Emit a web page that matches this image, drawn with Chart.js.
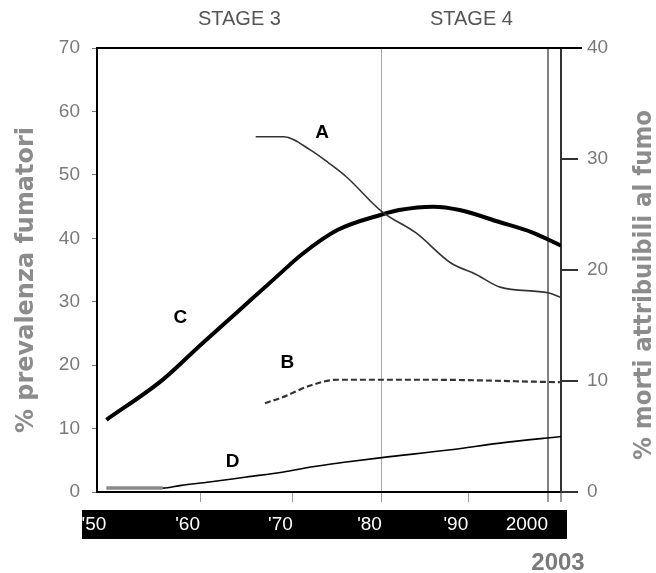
<!DOCTYPE html>
<html lang="it">
<head>
  <meta charset="UTF-8">
  <title>Epidemia del fumo - Italia</title>
  <script src="https://cdn.jsdelivr.net/npm/chart.js"></script>
  <style>
    html, body { margin: 0; padding: 0; background: #fff; }
    canvas { display: block; }
  </style>
</head>
<body>
  <canvas id="chart" width="656" height="573"></canvas>

  <script>
    // A: prevalenza fumatori uomini (asse sinistro)
    const yearsA = [1966, 1969, 1972, 1974, 1976, 1980, 1984, 1988, 1991, 1994, 2000, 2003];
    const prevA  = [56, 56, 53.9, 51.9, 49.7, 44.2, 40.8, 36.1, 34.3, 32.3, 31.4, 30.7];

    // B: prevalenza fumatrici donne (asse sinistro)
    const yearsB = [1967, 1969, 1972, 1975, 1985, 2003];
    const prevB  = [14, 15, 16.8, 17.7, 17.7, 17.3];

    // C: % morti attribuibili al fumo, uomini (asse destro)
    const yearsC  = [1950, 1956, 1960, 1964, 1968, 1971, 1975, 1980, 1982, 1986, 1989, 1994, 1998, 2003];
    const deathsC = [6.5, 10.1, 13.2, 16.2, 19.2, 21.4, 23.6, 25.0, 25.4, 25.7, 25.4, 24.3, 23.4, 22.2];

    // D: % morti attribuibili al fumo, donne (asse destro)
    const yearsD  = [1950, 1956, 1958, 1961, 1965, 1969, 1972, 1976, 1980, 1988, 1994, 2003];
    const deathsD = [0.35, 0.35, 0.6, 0.9, 1.35, 1.8, 2.25, 2.7, 3.1, 3.8, 4.4, 5.0];

    // x axis ticks and band labels
    const tickYears  = [1950, 1960, 1970, 1980, 1990, 2000, 2003];
    const tickLabels = ["'50", "'60", "'70", "'80", "'90", "2000", ""];

    // curve letters, placed in axis units (left axis)
    const curveNames  = ["A", "B", "C", "D"];
    const curveYears  = [1973.3, 1969.4, 1957.9, 1963.5];
    const curveValues = [56.6, 20.3, 27.4, 4.7];

    const stageNames = ["STAGE 3", "STAGE 4"];
    const stageFrom  = [1949, 1980];
    const stageTo    = [1980, 2003];

    // the original time axis is not evenly spaced (last 3 years squeezed)
    const knotYears = [1949, 1960, 1970, 1980, 1990, 2000, 2003];
    const knotFrac  = [0, 0.222, 0.422, 0.614, 0.800, 0.972, 1];

    function yearToFrac(v) {
      if (v <= knotYears[0]) return knotFrac[0];
      for (let i = 1; i < knotYears.length; i++) {
        if (v <= knotYears[i]) {
          const t = (v - knotYears[i - 1]) / (knotYears[i] - knotYears[i - 1]);
          return knotFrac[i - 1] + t * (knotFrac[i] - knotFrac[i - 1]);
        }
      }
      return 1;
    }
    function fracToYear(f) {
      for (let i = 1; i < knotFrac.length; i++) {
        if (f <= knotFrac[i]) {
          const t = (f - knotFrac[i - 1]) / (knotFrac[i] - knotFrac[i - 1]);
          return knotYears[i - 1] + t * (knotYears[i] - knotYears[i - 1]);
        }
      }
      return knotYears[knotYears.length - 1];
    }

    class KnotScale extends Chart.LinearScale {
      getPixelForValue(value) {
        if (value === null || value === undefined) return NaN;
        return this.getPixelForDecimal(yearToFrac(value));
      }
      getValueForPixel(pixel) {
        return fracToYear(this.getDecimalForPixel(pixel));
      }
    }
    KnotScale.id = 'knots';
    KnotScale.defaults = Chart.LinearScale.defaults;
    Chart.register(KnotScale);

    const pts = (xs, ys) => xs.map((x, i) => ({ x: x, y: ys[i] }));

    function fitVertical(ctx, text, x, y, len, font, color) {
      ctx.save();
      ctx.translate(x, y);
      ctx.rotate(-Math.PI / 2);
      ctx.font = font;
      const w = ctx.measureText(text).width;
      ctx.scale(len / w, 1);
      ctx.fillStyle = color;
      ctx.textAlign = 'center';
      ctx.textBaseline = 'alphabetic';
      ctx.fillText(text, 0, 0);
      ctx.restore();
    }

    const decor = {
      id: 'decor',
      beforeDraw(chart) {
        const ctx = chart.ctx;
        const a = chart.chartArea;
        ctx.save();
        ctx.fillStyle = '#fff';
        ctx.fillRect(0, 0, chart.width, chart.height);
        // black year band
        ctx.fillStyle = '#000';
        ctx.fillRect(a.left - 15, a.bottom + 18, a.right - a.left + 21, 29);
        ctx.restore();
      },
      afterDatasetsDraw(chart) {
        const ctx = chart.ctx;
        const x = chart.scales.x, y = chart.scales.y;
        ctx.save();
        ctx.fillStyle = '#000';
        ctx.font = 'bold 19px "Liberation Sans", Arial, sans-serif';
        ctx.textAlign = 'center';
        ctx.textBaseline = 'middle';
        curveNames.forEach((n, i) => {
          ctx.fillText(n, x.getPixelForValue(curveYears[i]), y.getPixelForValue(curveValues[i]));
        });
        ctx.restore();
      },
      afterDraw(chart) {
        const ctx = chart.ctx;
        const a = chart.chartArea;
        const x = chart.scales.x;
        ctx.save();
        // top frame
        ctx.strokeStyle = '#000';
        ctx.lineWidth = 2;
        ctx.beginPath();
        ctx.moveTo(a.left - 1, a.top);
        ctx.lineTo(a.right + 21, a.top);
        ctx.stroke();

        // stage labels
        ctx.fillStyle = '#555';
        ctx.font = '20px "Liberation Sans", Arial, sans-serif';
        ctx.textAlign = 'center';
        ctx.textBaseline = 'middle';
        stageNames.forEach((s, i) => {
          const cx = (x.getPixelForValue(stageFrom[i]) + x.getPixelForValue(stageTo[i])) / 2;
          ctx.fillText(s, cx, 19);
        });

        // last year label under the band
        ctx.fillStyle = '#7a7a7a';
        ctx.font = 'bold 24px "Liberation Sans", Arial, sans-serif';
        ctx.fillText('2003', x.getPixelForValue(2003) - 3, 563);
        ctx.restore();

        fitVertical(ctx, '% prevalenza fumatori', 33, 280, 306,
          'bold 24px "DejaVu Sans", sans-serif', '#8c8c8c');
        fitVertical(ctx, '% morti attribuibili al fumo', 651, 285, 350,
          'bold 24px "DejaVu Sans", sans-serif', '#8c8c8c');
      }
    };

    const tickFont = { family: '"Liberation Sans", Arial, sans-serif', size: 19 };

    new Chart(document.getElementById('chart'), {
      type: 'line',
      data: {
        datasets: [
          {
            label: 'A',
            data: pts(yearsA, prevA),
            yAxisID: 'y',
            borderColor: '#333',
            borderWidth: 1.6,
            cubicInterpolationMode: 'monotone',
            pointRadius: 0
          },
          {
            label: 'B',
            data: pts(yearsB, prevB),
            yAxisID: 'y',
            borderColor: '#333',
            borderWidth: 2.2,
            borderDash: [6, 3],
            cubicInterpolationMode: 'monotone',
            pointRadius: 0
          },
          {
            label: 'C',
            data: pts(yearsC, deathsC),
            yAxisID: 'y2',
            borderColor: '#000',
            borderWidth: 4,
            cubicInterpolationMode: 'monotone',
            pointRadius: 0
          },
          {
            label: 'D',
            data: pts(yearsD, deathsD),
            yAxisID: 'y2',
            borderColor: '#000',
            borderWidth: 1.6,
            cubicInterpolationMode: 'monotone',
            pointRadius: 0,
            segment: {
              borderColor: c => c.p1.parsed.x <= 1956 ? '#8a8a8a' : undefined,
              borderWidth: c => c.p1.parsed.x <= 1956 ? 3.5 : undefined
            }
          }
        ]
      },
      options: {
        responsive: false,
        animation: false,
        layout: { padding: { top: 48, bottom: 0, left: 0, right: 0 } },
        plugins: {
          legend: { display: false },
          tooltip: { enabled: false }
        },
        scales: {
          x: {
            type: 'knots',
            min: 1949,
            max: 2003,
            afterBuildTicks: s => { s.ticks = tickYears.map(v => ({ value: v })); },
            afterFit: s => { s.height = 81; },
            border: { display: true, color: '#000', width: 2 },
            grid: {
              drawOnChartArea: true,
              drawTicks: true,
              tickLength: 10,
              color: c => {
                const v = c.tick && c.tick.value;
                if (v === 1980) return '#a8a8a8';
                if (v === 2000) return '#808080';
                if (v === 2003) return '#333';
                return 'rgba(0,0,0,0)';
              },
              lineWidth: c => {
                const v = c.tick && c.tick.value;
                return (v === 2000 || v === 2003) ? 2 : 1;
              },
              tickColor: c => (c.tick && c.tick.value === 1950) ? 'rgba(0,0,0,0)' : '#9a9a9a'
            },
            ticks: {
              autoSkip: false,
              maxRotation: 0,
              align: 'end',
              padding: 11,
              color: '#fff',
              font: { family: '"Liberation Sans", Arial, sans-serif', size: 19 },
              callback: (v, i) => tickLabels[i]
            }
          },
          y: {
            position: 'left',
            min: 0,
            max: 70,
            afterFit: s => { s.width = 97; },
            border: { display: true, color: '#000', width: 2 },
            grid: { drawOnChartArea: false, tickLength: 5, tickColor: '#777' },
            ticks: { stepSize: 10, color: '#7a7a7a', font: tickFont, padding: 12 }
          },
          y2: {
            position: 'right',
            min: 0,
            max: 40,
            afterFit: s => { s.width = 95; },
            border: { display: true, color: '#333', width: 2 },
            grid: { drawOnChartArea: false, tickLength: 17, tickColor: '#333', lineWidth: 2 },
            ticks: { stepSize: 10, color: '#7a7a7a', font: tickFont, padding: 9 }
          }
        }
      },
      plugins: [decor]
    });
  </script>
</body>
</html>
